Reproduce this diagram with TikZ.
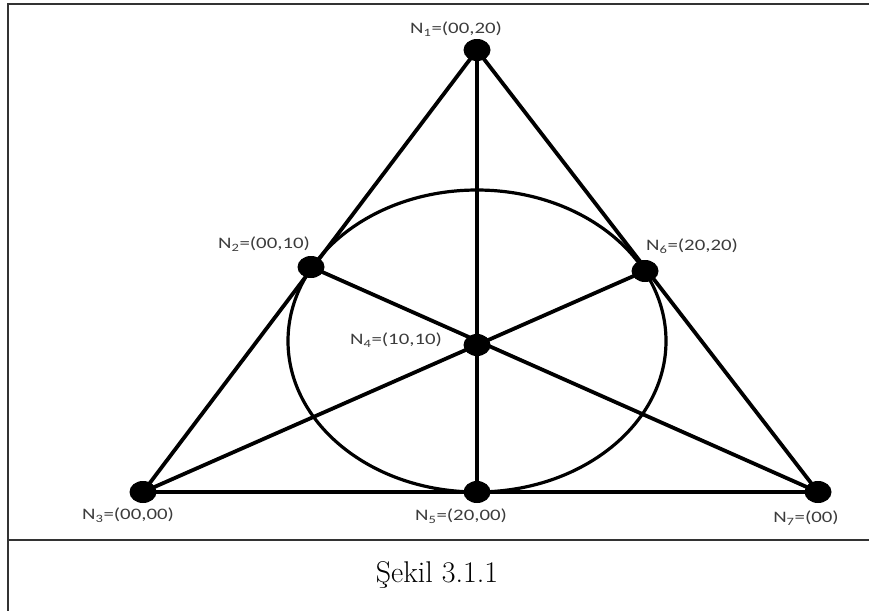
\documentclass[tikz,border=0pt]{standalone}
\usepackage{fontspec}
\newfontfamily\lblfont{Carlito}
\usetikzlibrary{shapes.geometric}
\definecolor{lblgray}{HTML}{3C3C3C}
\definecolor{framegray}{HTML}{333333}
\begin{document}
\begin{tikzpicture}[x=1pt,y=-1pt,line width=3.8pt,
  vertex/.style={ellipse,fill,inner sep=0pt,minimum width=27pt,minimum height=22pt},
  lbl/.style={font=\lblfont\fontsize{16}{18}\selectfont,text=lblgray,inner sep=0pt,xscale=1.3}]
 \useasboundingbox (0,0) rectangle (869,611);
 % frame round the figure; its right and bottom sides fall off the page
 \draw[framegray,line width=1.6pt] (869,4)--(8,4)--(8,611);
 \draw[framegray,line width=1.6pt] (8,540)--(869,540);
 \coordinate (n1) at (477,50);  \coordinate (n2) at (311,267);
 \coordinate (n3) at (143,492); \coordinate (n4) at (477,345);
 \coordinate (n5) at (477,492); \coordinate (n6) at (645,271);
 \coordinate (n7) at (818,492);
 \draw (n1)--(n3)--(n7)--cycle;
 \draw (n1)--(n5); \draw (n2)--(n7); \draw (n6)--(n3);
 \draw[line width=3.2pt] (477,341) ellipse [x radius=189,y radius=151];
 \foreach \i in {1,...,7} \node[vertex] (v\i) at (n\i) {};
 \node[lbl] (l1) at (456,29)  {N\textsubscript{1}=(00,20)};
 \node[lbl] (l2) at (264,244) {N\textsubscript{2}=(00,10)};
 \node[lbl] (l3) at (128,515) {N\textsubscript{3}=(00,00)};
 \node[lbl] (l4) at (396,340) {N\textsubscript{4}=(10,10)};
 \node[lbl] (l5) at (461,516) {N\textsubscript{5}=(20,00)};
 \node[lbl] (l6) at (692,246) {N\textsubscript{6}=(20,20)};
 \node[lbl] (l7) at (806,518) {N\textsubscript{7}=(00)};
 \node[font=\fontsize{30}{36}\selectfont] (cap) at (437,575) {Şekil 3.1.1};
\end{tikzpicture}
\end{document}
